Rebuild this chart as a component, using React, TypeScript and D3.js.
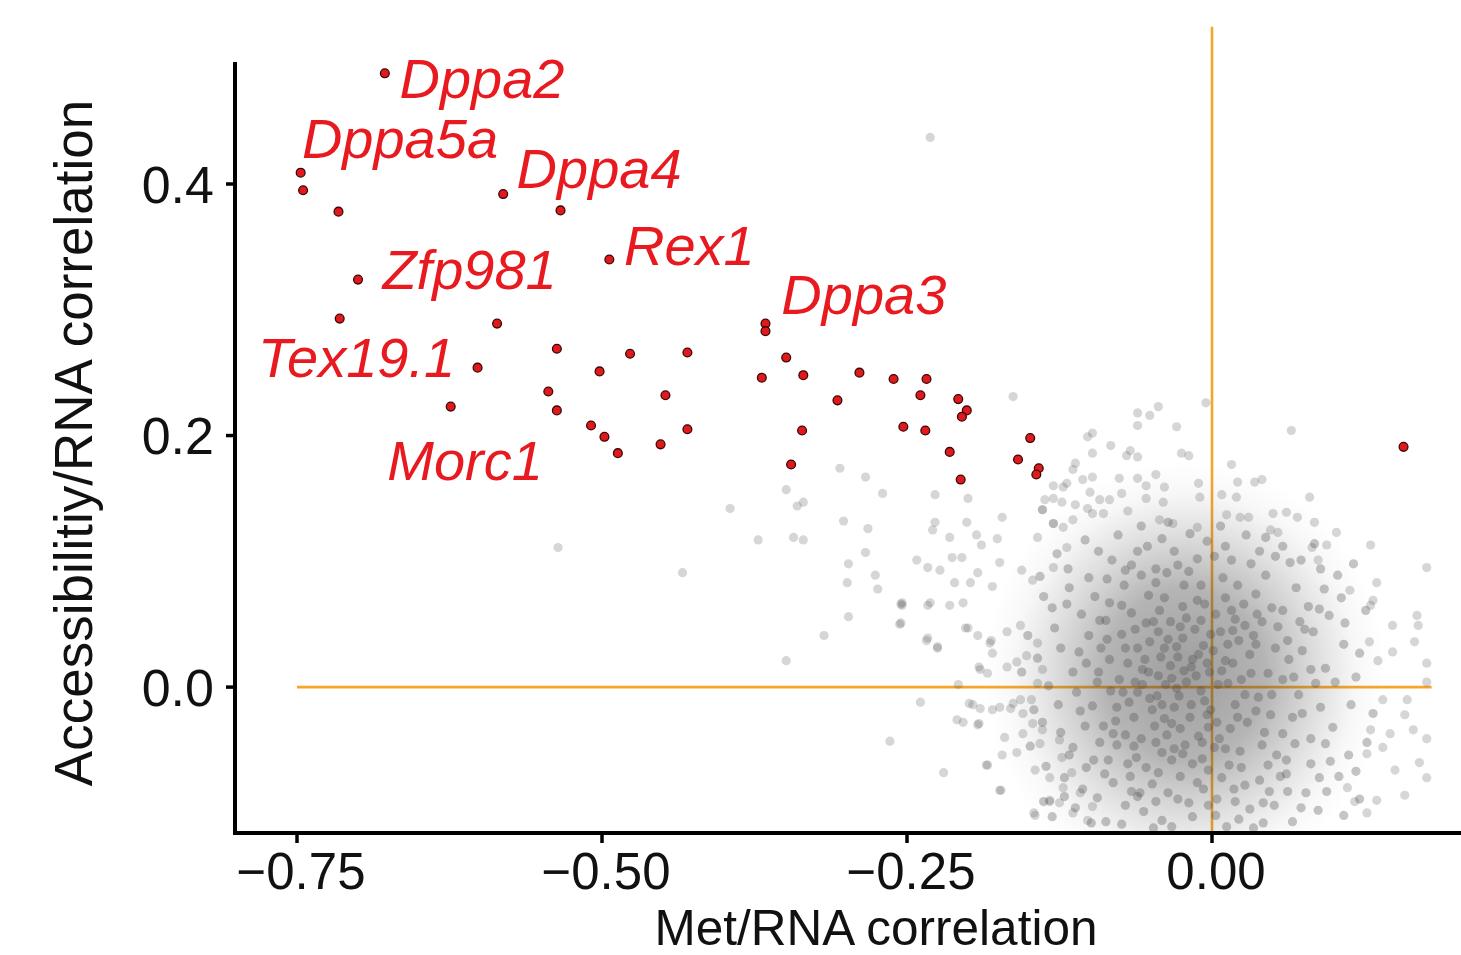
import React from "react";
import * as d3 from "d3";

// ---------- data ----------
const xTicks = [-0.75, -0.5, -0.25, 0];
const xTickLabels = ["\u22120.75", "\u22120.50", "\u22120.25", "0.00"];
const yTicks = [0, 0.2, 0.4];
const yTickLabels = ["0.0", "0.2", "0.4"];

const xTitle = "Met/RNA correlation";
const yTitle = "Accessibilitiy/RNA correlation";

// highlighted (pluripotency) genes: [met/rna, acc/rna]
const highlighted: [number, number][] = [
  [-0.678, 0.488], [-0.747, 0.409], [-0.745, 0.395], [-0.716, 0.378], [-0.581, 0.392],
  [-0.534, 0.379], [-0.494, 0.340], [-0.700, 0.324], [-0.715, 0.293], [-0.586, 0.289],
  [-0.537, 0.269], [-0.477, 0.265], [-0.430, 0.266], [-0.602, 0.254], [-0.502, 0.251],
  [-0.624, 0.223], [-0.544, 0.235], [-0.537, 0.220], [-0.448, 0.232], [-0.509, 0.208],
  [-0.498, 0.199], [-0.487, 0.186], [-0.452, 0.193], [-0.430, 0.205], [-0.366, 0.289],
  [-0.366, 0.283], [-0.369, 0.246], [-0.349, 0.262], [-0.335, 0.248], [-0.307, 0.228],
  [-0.289, 0.250], [-0.336, 0.204], [-0.345, 0.177], [-0.261, 0.245], [-0.234, 0.245],
  [-0.239, 0.232], [-0.253, 0.207], [-0.235, 0.204], [-0.208, 0.229], [-0.201, 0.220],
  [-0.205, 0.215], [-0.215, 0.187], [-0.206, 0.165], [-0.149, 0.198], [-0.159, 0.181],
  [-0.142, 0.174], [-0.144, 0.169], [0.157, 0.191],
];

// gene labels anchored in data coordinates (left / baseline)
const geneLabels = ["Dppa2", "Dppa5a", "Dppa4", "Zfp981", "Rex1", "Dppa3", "Tex19.1", "Morc1"];
const labelX = [-0.666, -0.746, -0.570, -0.680, -0.482, -0.353, -0.782, -0.676];
const labelY = [0.468, 0.421, 0.397, 0.3165, 0.3356, 0.2966, 0.2465, 0.1646];

// background genes – sparse fringe
const fringe: [number, number][] = [
  [-0.231, 0.437], [-0.536, 0.111], [-0.434, 0.091], [-0.305, 0.174], [-0.284, 0.167],
  [-0.349, 0.157], [-0.270, 0.154], [-0.227, 0.153], [-0.200, 0.150], [-0.395, 0.142],
  [-0.340, 0.144], [-0.335, 0.147], [-0.302, 0.132], [-0.282, 0.126], [-0.227, 0.131],
  [-0.229, 0.125], [-0.201, 0.131], [-0.215, 0.119], [-0.372, 0.117], [-0.343, 0.119],
  [-0.335, 0.117], [-0.284, 0.107], [-0.298, 0.098], [-0.242, 0.101], [-0.233, 0.095],
  [-0.223, 0.093], [-0.213, 0.103], [-0.205, 0.103], [-0.193, 0.121], [-0.189, 0.113],
  [-0.176, 0.118], [-0.172, 0.135], [-0.163, 0.231], [-0.276, 0.089], [-0.299, 0.083],
  [-0.274, 0.078], [-0.254, 0.067], [-0.231, 0.067], [-0.211, 0.083], [-0.198, 0.083],
  [-0.192, 0.091], [-0.174, 0.099], [-0.180, 0.080], [-0.156, 0.093], [-0.147, 0.085],
  [-0.130, 0.095], [-0.119, 0.111], [-0.114, 0.133], [-0.130, 0.130], [-0.143, 0.119],
  [-0.122, 0.159], [-0.114, 0.173], [-0.139, 0.141], [-0.130, 0.150],
  [-0.349, 0.021], [-0.318, 0.041], [-0.298, 0.056], [-0.255, 0.051], [-0.255, 0.066],
  [-0.233, 0.039], [-0.225, 0.032], [-0.239, -0.012], [-0.264, -0.043], [-0.220, -0.068],
  [-0.185, -0.062], [-0.173, -0.082], [-0.146, -0.100], [-0.133, -0.091], [-0.209, -0.026],
  [-0.191, -0.029], [-0.199, -0.013], [-0.165, -0.017], [-0.202, 0.047], [-0.181, 0.037],
  [-0.191, 0.016],
  [-0.005, 0.226], [-0.061, 0.218], [-0.051, 0.216], [-0.044, 0.223], [-0.061, 0.208],
  [-0.029, 0.207], [-0.098, 0.202], [-0.102, 0.199], [-0.083, 0.192], [-0.098, 0.186],
  [-0.067, 0.188], [-0.070, 0.184], [-0.061, 0.183], [-0.025, 0.186], [-0.019, 0.184],
  [0.065, 0.204], [0.016, 0.177], [-0.112, 0.178], [-0.046, 0.169], [-0.076, 0.166],
  [-0.061, 0.166], [-0.106, 0.165], [-0.098, 0.167], [-0.130, 0.160], [-0.119, 0.162],
  [-0.054, 0.160], [-0.039, 0.159], [-0.011, 0.162], [0.021, 0.163], [0.035, 0.163],
  [0.041, 0.165], [-0.100, 0.155], [-0.074, 0.154], [0.080, 0.151], [-0.010, 0.151],
  [0.008, 0.153], [0.020, 0.151], [-0.137, 0.149], [-0.123, 0.147], [-0.092, 0.149],
  [-0.084, 0.149], [-0.054, 0.150], [-0.040, 0.147], [-0.112, 0.145], [-0.102, 0.142],
  [-0.139, 0.141], [-0.069, 0.140], [0.050, 0.138], [0.061, 0.139], [0.070, 0.135],
  [0.084, 0.131], [0.102, 0.123], [0.130, 0.113], [0.176, 0.095], [0.012, 0.137],
  [0.023, 0.135], [0.030, 0.135], [-0.098, 0.138], [-0.089, 0.138], [-0.130, 0.130],
  [-0.122, 0.127], [-0.043, 0.133], [-0.032, 0.130], [-0.012, 0.127], [0.048, 0.125],
  [0.054, 0.123], [0.082, 0.111], [0.094, 0.113], [0.087, 0.101], [0.135, 0.083],
  [0.113, 0.077], [0.132, 0.069],
  [0.168, 0.057], [0.169, 0.049], [0.148, 0.049], [0.130, 0.065], [0.166, 0.036],
  [0.176, 0.019], [0.148, 0.028], [0.129, 0.036], [0.136, 0.021], [0.176, 0.004],
  [0.160, -0.010], [0.158, -0.022], [0.140, -0.010], [0.176, -0.041], [0.165, -0.034],
  [0.170, -0.060], [0.176, -0.072], [0.158, -0.086], [0.150, -0.066], [0.140, -0.048],
  [0.146, -0.037], [0.127, -0.053], [0.135, -0.090], [0.117, -0.091], [0.127, -0.100],
  [0.111, -0.080], [0.130, -0.034],
  [-0.254, 0.065], [-0.256, 0.050], [-0.233, 0.065], [-0.215, 0.065], [-0.204, 0.067],
  [-0.234, 0.037], [-0.225, 0.031], [-0.200, 0.047], [-0.192, 0.041], [-0.182, 0.035],
  [-0.180, 0.027], [-0.190, 0.014], [-0.184, 0.011], [-0.208, 0.002], [-0.168, 0.016],
  [-0.160, 0.020], [-0.196, -0.014], [-0.190, -0.017], [-0.204, -0.028], [-0.192, -0.030],
  [-0.180, -0.018], [-0.174, -0.016], [-0.170, -0.040], [-0.172, -0.054], [-0.160, -0.052],
  [-0.155, -0.037], [-0.184, -0.062], [-0.174, -0.082], [-0.145, -0.066], [-0.133, -0.072],
  [-0.145, -0.102], [-0.133, -0.090], [-0.125, -0.092], [-0.155, -0.021], [-0.163, -0.013],
  [-0.157, -0.010], [-0.168, 0.044], [-0.157, 0.049], [-0.143, 0.035], [-0.152, 0.025],
  [-0.139, 0.014], [-0.143, 0.003], [-0.148, -0.010], [-0.147, -0.029], [-0.139, -0.034],
  [-0.141, -0.045], [-0.125, -0.042], [-0.123, -0.056], [-0.115, -0.068], [-0.122, -0.080],
  [-0.108, -0.084], [-0.114, -0.100], [-0.098, -0.095], [-0.102, -0.106],
];

// background genes – dense core (estimated)
const core: [number, number][] = [
  [-0.021, 0.004], [-0.034, 0.017], [-0.006, -0.011], [0.011, 0.021], [-0.049, -0.018],
  [-0.061, 0.031], [0.029, -0.028], [-0.014, 0.046], [-0.041, -0.052], [0.019, 0.054],
  [-0.076, 0.006], [0.046, 0.011], [-0.026, -0.071], [-0.089, -0.031], [0.061, -0.058],
  [-0.009, 0.081], [-0.066, 0.059], [0.036, 0.074], [-0.101, 0.041], [0.074, 0.029],
  [-0.046, 0.094], [0.004, -0.089], [-0.081, -0.076], [0.051, -0.094], [-0.111, -0.004],
  [0.089, -0.016], [-0.031, 0.108], [0.016, 0.101], [-0.056, -0.099], [0.069, 0.079],
  [-0.002, 0.012], [-0.018, -0.024], [-0.038, 0.002], [0.006, -0.041], [-0.029, 0.032],
  [0.024, 0.006], [-0.052, 0.012], [-0.011, -0.039], [-0.044, 0.044], [0.034, 0.041],
  [-0.068, -0.012], [0.014, -0.062], [-0.058, -0.041], [0.041, -0.046], [-0.024, 0.064],
  [-0.084, 0.022], [0.054, 0.048], [-0.036, -0.084], [0.027, -0.078], [-0.072, 0.081],
  [0.081, -0.041], [-0.097, -0.058], [0.064, 0.099], [-0.119, 0.066], [0.096, 0.057],
  [-0.016, -0.103], [-0.082, 0.101], [0.042, -0.108], [-0.124, -0.036], [0.104, -0.071],
  [-0.007, 0.033], [-0.027, -0.007], [0.019, -0.014], [-0.047, -0.031], [-0.016, 0.022],
  [0.003, 0.058], [-0.063, 0.046], [0.031, 0.026], [-0.054, -0.064], [-0.003, -0.066],
  [-0.078, -0.046], [0.048, -0.022], [-0.093, 0.012], [0.067, 0.008], [-0.039, 0.071],
  [0.009, 0.087], [-0.071, -0.094], [0.031, -0.097], [-0.106, -0.081], [0.077, -0.084],
  [-0.013, 0.009], [-0.031, -0.016], [0.001, 0.029], [-0.042, 0.024], [0.015, -0.033],
  [-0.057, 0.002], [0.022, 0.037], [-0.022, -0.046], [-0.069, 0.019], [0.038, -0.008],
  [-0.034, 0.052], [-0.008, -0.057], [0.052, 0.031], [-0.079, -0.027], [0.026, 0.066],
  [-0.049, -0.077], [0.058, -0.037], [-0.087, 0.053], [0.044, 0.089], [-0.062, -0.056],
  [0.071, -0.006], [-0.019, 0.092], [-0.098, -0.015], [0.083, 0.044], [-0.041, -0.106],
  [0.012, -0.111], [-0.109, 0.028], [0.093, 0.015], [-0.053, 0.112], [0.058, 0.112],
  [-0.004, -0.022], [-0.024, 0.039], [-0.045, -0.007], [0.007, 0.044], [-0.037, -0.038],
  [0.023, -0.051], [-0.064, -0.024], [0.037, 0.058], [-0.012, 0.069], [-0.074, 0.042],
  [0.056, -0.071], [-0.092, -0.044], [0.079, 0.064], [-0.028, -0.089], [0.002, 0.104],
  [-0.114, 0.012], [0.099, -0.032], [-0.066, 0.097], [0.034, -0.112], [-0.121, -0.072],
  [0.108, 0.034], [-0.087, -0.107], [0.087, -0.098], [-0.129, 0.047], [0.112, -0.054],
  [-0.101, 0.087], [0.103, 0.089], [-0.077, 0.121], [0.028, 0.121], [-0.018, 0.122],
  [-0.033, 0.007], [-0.009, -0.003], [0.013, 0.003], [-0.051, 0.036], [-0.026, -0.033],
  [0.004, -0.028], [-0.043, 0.061], [0.021, 0.081], [-0.059, -0.084], [0.046, -0.062],
  [-0.083, -0.003], [0.063, 0.022], [-0.007, -0.081], [-0.096, 0.072], [0.072, 0.052],
  [-0.048, -0.112], [0.066, -0.107], [-0.117, -0.054], [0.118, 0.008], [-0.134, 0.001],
  [0.121, -0.089], [-0.138, -0.091], [0.126, 0.061], [-0.141, 0.088], [0.116, 0.098],
  [-0.127, 0.106], [-0.104, 0.117], [0.084, 0.114], [-0.146, -0.018], [0.132, -0.021],
  [-0.017, 0.016], [-0.039, -0.025], [0.008, 0.013], [-0.055, 0.022], [-0.028, 0.024],
  [-0.003, -0.032], [0.017, 0.045], [-0.071, -0.038], [0.043, -0.036], [-0.052, 0.073],
  [-0.012, -0.076], [0.062, -0.083], [-0.091, 0.031], [0.085, 0.003], [-0.033, -0.058],
  [0.027, -0.006], [-0.063, 0.004], [0.011, 0.071], [-0.048, 0.052], [-0.023, 0.081],
  [0.049, 0.063], [-0.084, 0.067], [0.002, -0.048], [-0.037, 0.091], [0.032, 0.098],
  [-0.067, -0.071], [0.019, -0.091], [-0.104, -0.031], [0.097, -0.059], [-0.009, 0.053],
  [-0.118, 0.094], [-0.093, 0.108], [-0.058, 0.128], [-0.036, 0.131], [0.007, 0.128],
  [0.044, 0.119], [0.073, 0.101], [0.092, 0.078], [0.109, 0.051], [0.121, 0.027],
  [-0.138, 0.072], [-0.151, 0.041], [-0.156, 0.012], [-0.149, -0.047], [-0.136, -0.063],
  [-0.131, -0.103], [-0.112, -0.096], [-0.094, -0.088], [-0.074, -0.109], [-0.061, -0.087],
  [-0.033, -0.111], [-0.019, -0.092], [0.003, -0.102], [0.022, -0.105], [0.047, -0.083],
  [0.073, -0.096], [0.094, -0.083], [0.108, -0.102], [0.118, -0.067], [0.127, -0.044],
  [0.114, -0.014], [0.101, 0.004], [0.106, 0.071], [0.089, 0.094], [0.052, 0.104],
  [0.039, 0.108], [-0.004, 0.116], [-0.028, 0.097], [-0.061, 0.108], [-0.086, 0.086],
  [-0.107, 0.058], [-0.124, 0.031], [-0.126, -0.014], [-0.114, -0.048], [-0.103, -0.064],
  [-0.085, -0.058], [-0.069, -0.061], [-0.044, -0.068], [-0.031, -0.049], [-0.016, -0.061],
  [0.008, -0.072], [0.024, -0.064], [0.039, -0.074], [0.053, -0.054], [0.068, -0.045],
  [0.074, -0.021], [0.081, 0.014], [0.062, 0.037], [0.058, 0.061], [0.041, 0.052],
  [0.027, 0.049], [0.013, 0.034], [-0.001, 0.042], [-0.021, 0.055], [-0.036, 0.038],
  [-0.054, 0.051], [-0.071, 0.031], [-0.086, 0.038], [-0.094, 0.004], [-0.078, -0.016],
  [-0.061, -0.004], [-0.044, 0.009], [-0.029, -0.001], [-0.011, 0.026], [0.005, 0.002],
  [0.021, -0.024], [0.036, -0.019], [0.049, -0.006], [0.032, 0.011], [0.017, 0.019],
  [-0.004, 0.019], [-0.023, 0.013], [-0.039, 0.031], [-0.051, -0.009], [-0.033, -0.029],
  [-0.017, -0.014], [-0.001, -0.018], [0.011, -0.049], [-0.008, -0.044], [-0.024, -0.053],
  [-0.046, -0.044], [-0.064, -0.047], [-0.081, -0.037], [-0.073, -0.004], [-0.057, 0.014],
  [-0.041, -0.014], [-0.026, 0.048], [-0.006, 0.066], [0.016, 0.061], [0.036, 0.034],
  [-0.046, 0.083], [-0.074, 0.065], [-0.058, 0.089], [-0.092, 0.053], [-0.103, 0.019],
  [-0.108, -0.019], [-0.088, -0.069], [-0.066, -0.083], [-0.046, -0.091], [-0.003, -0.094],
  [0.018, -0.081], [0.042, -0.092], [0.061, -0.069], [0.081, -0.061], [0.093, -0.045],
  [0.088, -0.072], [0.066, -0.024], [0.058, 0.006], [0.076, 0.046], [0.088, 0.062],
  [-0.012, 0.102], [0.011, 0.112], [-0.041, 0.118], [-0.071, 0.093], [-0.117, 0.079],
  [-0.131, 0.063], [-0.143, 0.023], [-0.139, -0.028], [-0.121, -0.087], [-0.099, -0.108],
];

// ---------- layout ----------
const W = 1461;
const H = 955;
const FONT = "'Liberation Sans', Arial, Helvetica, sans-serif";
const RED = "#e8191f";
const ORANGE = "#f5a62a";

export default function App() {
  const x = d3.scaleLinear().domain([-0.8, 0.2]).range([236, 1456]);
  const y = d3.scaleLinear().domain([-0.116, 0.497]).range([833, 62]);

  const axisX = x(-0.8) - 1;
  const axisY = y(-0.116);

  // density haze under the dense core (centre/spread of background genes)
  const hazeCx = -0.022;
  const hazeCy = 0.01;
  const hazeRx = 0.165;
  const hazeRy = 0.17;

  return (
    <div style={{ position: "fixed", left: 0, top: 0 }}>
      <svg width={W} height={H} viewBox={`0 0 ${W} ${H}`} style={{ display: "block", background: "#fff" }}>
        <defs>
          <radialGradient id="haze" cx="50%" cy="50%" r="50%">
            <stop offset="0%" stopColor="#3c3c3c" stopOpacity={0.5} />
            <stop offset="40%" stopColor="#454545" stopOpacity={0.4} />
            <stop offset="65%" stopColor="#555" stopOpacity={0.2} />
            <stop offset="85%" stopColor="#666" stopOpacity={0.05} />
            <stop offset="100%" stopColor="#777" stopOpacity={0} />
          </radialGradient>
          <clipPath id="panel">
            <rect x={axisX} y={0} width={W - axisX} height={axisY - 2} />
          </clipPath>
        </defs>

        {/* reference lines */}
        <line x1={x(-0.75)} x2={x(0.18)} y1={y(0)} y2={y(0)} stroke={ORANGE} strokeWidth={2.6} />
        <line x1={x(0)} x2={x(0)} y1={y(-0.116)} y2={y(0.525)} stroke={ORANGE} strokeWidth={2.6} />

        {/* background genes */}
        <g clipPath="url(#panel)">
          <ellipse
            cx={x(hazeCx)}
            cy={y(hazeCy)}
            rx={x(hazeRx) - x(0)}
            ry={y(0) - y(hazeRy)}
            fill="url(#haze)"
          />
          {fringe.map((d, i) => (
            <circle key={"f" + i} cx={x(d[0])} cy={y(d[1])} r={4.6} fill="#555" fillOpacity={0.24} />
          ))}
          {core.map((d, i) => (
            <circle key={"c" + i} cx={x(d[0])} cy={y(d[1])} r={4.6} fill="#4a4a4a" fillOpacity={0.32} />
          ))}
        </g>

        {/* highlighted genes */}
        {highlighted.map((d, i) => (
          <circle key={"h" + i} cx={x(d[0])} cy={y(d[1])} r={4.4} fill="#e0191c" stroke="#3b0606" strokeWidth={1.3} />
        ))}

        {/* labels */}
        {geneLabels.map((g, i) => (
          <text
            key={g}
            x={x(labelX[i])}
            y={y(labelY[i])}
            fill={RED}
            fontFamily={FONT}
            fontStyle="italic"
            fontSize={56}
          >
            {g}
          </text>
        ))}

        {/* axes */}
        <line x1={axisX} x2={axisX} y1={y(0.497)} y2={axisY + 2} stroke="#000" strokeWidth={4} />
        <line x1={axisX - 2} x2={W} y1={axisY} y2={axisY} stroke="#000" strokeWidth={4} />

        {xTicks.map((t, i) => (
          <g key={"xt" + i}>
            <line x1={x(t)} x2={x(t)} y1={axisY} y2={axisY + 10} stroke="#000" strokeWidth={3.5} />
            <text x={x(t) + 4} y={889} textAnchor="middle" fontFamily={FONT} fontSize={51} fill="#111">
              {xTickLabels[i]}
            </text>
          </g>
        ))}
        {yTicks.map((t, i) => (
          <g key={"yt" + i}>
            <line x1={axisX - 9} x2={axisX} y1={y(t)} y2={y(t)} stroke="#000" strokeWidth={3.5} />
            <text x={214} y={y(t)} dy="0.36em" textAnchor="end" fontFamily={FONT} fontSize={52} fill="#111">
              {yTickLabels[i]}
            </text>
          </g>
        ))}

        <text x={876} y={944.5} textAnchor="middle" fontFamily={FONT} fontSize={49.5} fill="#111">
          {xTitle}
        </text>
        <text
          transform={`translate(92, 443) rotate(-90)`}
          textAnchor="middle"
          fontFamily={FONT}
          fontSize={53}
          fill="#111"
        >
          {yTitle}
        </text>
      </svg>
    </div>
  );
}
